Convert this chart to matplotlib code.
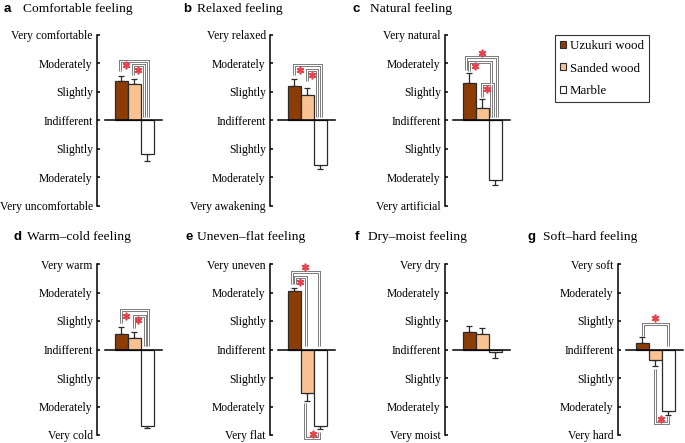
import matplotlib

matplotlib.use("Agg")

import matplotlib.pyplot as plt
from matplotlib.patches import Patch

W, H = 685, 443

SERIES = ["Uzukuri wood", "Sanded wood", "Marble"]
COLORS = ["#8c3d06", "#f9c293", "#ffffff"]

TITLES = [
    "Comfortable feeling",
    "Relaxed feeling",
    "Natural feeling",
    "Warm\u2013cold feeling",
    "Uneven\u2013flat feeling",
    "Dry\u2013moist feeling",
    "Soft\u2013hard feeling",
]
LETTERS = ["a", "b", "c", "d", "e", "f", "g"]

SCALE_ENDS = [
    ("Very comfortable", "Very uncomfortable"),
    ("Very relaxed", "Very awakening"),
    ("Very natural", "Very artificial"),
    ("Very warm", "Very cold"),
    ("Very uneven", "Very flat"),
    ("Very dry", "Very moist"),
    ("Very soft", "Very hard"),
]
SCALE_MIDDLE = ["Moderately", "Slightly", "Indifferent", "Slightly", "Moderately"]

# mean scores (Uzukuri, Sanded, Marble) and standard errors
uzukuri = [1.37, 1.22, 1.31, 0.55, 2.04, 0.63, 0.22]
sanded = [1.28, 0.88, 0.43, 0.40, -1.52, 0.54, -0.38]
marble = [-1.16, -1.56, -2.10, -2.70, -2.70, -0.09, -2.16]
uzukuri_err = [0.19, 0.25, 0.35, 0.24, 0.13, 0.18, 0.23]
sanded_err = [0.19, 0.26, 0.34, 0.22, 0.30, 0.23, 0.19]
marble_err = [0.25, 0.15, 0.16, 0.05, 0.09, 0.21, 0.14]

# significance brackets: (x_left, x_right, y_bar, y_left_end, y_right_end, star_x, star_y)
BRACKETS = [
    [(-0.08, 2.05, 2.10, 1.72, 0.14, 0.36, 1.93), (0.95, 1.77, 1.95, 1.60, 0.14, 1.28, 1.76)],
    [(0.0, 2.05, 1.96, 1.60, 0.14, 0.44, 1.76), (1.03, 1.79, 1.78, 1.37, 0.14, 1.38, 1.58)],
    [
        (-0.23, 2.13, 2.23, 1.78, 0.14, 0.97, 2.37),
        (0.03, 1.70, 2.07, 1.72, 0.14, 0.46, 1.90),
        (1.03, 1.85, 1.29, 0.84, 0.14, 1.36, 1.10),
    ],
    [(0.0, 2.10, 1.38, 0.94, 0.14, 0.38, 1.17), (1.03, 1.85, 1.17, 0.76, 0.14, 1.33, 1.02)],
    [
        (-0.15, 1.95, 2.73, 2.29, 0.12, 0.87, 2.90),
        (0.05, 0.95, 2.56, 2.29, 0.12, 0.49, 2.37),
        (0.87, 1.95, -3.11, -1.88, -2.88, 1.44, -2.95),
    ],
    [],
    [(0.05, 1.97, 0.89, 0.49, 0.14, 1.03, 1.10), (0.97, 1.97, -2.58, -0.68, -2.32, 1.49, -2.44)],
]

# layout in pixels
SPINE_X = [97, 270, 445, 97, 270, 445, 618]
ROW_TOP = [35, 35, 35, 264, 264, 264, 264]
ROW_BOTTOM = [206, 206, 206, 435, 435, 435, 435]
LETTER_X = [4, 183, 353, 13, 185, 355, 528]
TITLE_X = [23, 197, 370, 27, 197, 368, 543]
TITLE_BASE = [11.7, 11.7, 11.7, 240, 240, 240, 240]

UNIT_PX = 13.0
X_SPINE = -1.85
X_RIGHT = 3.4

plt.rcParams.update({"font.family": "Liberation Serif"})

fig = plt.figure(figsize=(W / 100, H / 100), dpi=100)
fig.patch.set_facecolor("white")


def draw_bracket(ax, spec):
    x0, x1, yb, y0, y1, sx, sy = spec
    xs = [x0, x0, x1, x1]
    ys = [y0, yb, yb, y1]
    ax.plot(xs, ys, color="#727272", lw=2.1, solid_joinstyle="miter", solid_capstyle="butt", clip_on=False, zorder=4)
    ax.plot(xs, ys, color="white", lw=0.8, solid_joinstyle="miter", solid_capstyle="butt", clip_on=False, zorder=5)
    ax.plot([sx], [sy], marker=(6, 2, 0), ms=5.5, mew=1.2, color="#e5424c", clip_on=False, zorder=6)


for i in range(7):
    width_px = (X_RIGHT - X_SPINE) * UNIT_PX
    height_px = ROW_BOTTOM[i] - ROW_TOP[i]
    ax = fig.add_axes([SPINE_X[i] / W, 1 - ROW_BOTTOM[i] / H, width_px / W, height_px / H])
    ax.set_xlim(X_SPINE, X_RIGHT)
    ax.set_ylim(-3, 3)
    for side in ("top", "right", "bottom"):
        ax.spines[side].set_visible(False)
    ax.spines["left"].set_linewidth(1.1)
    ax.set_xticks([])
    ax.set_yticks([3, 2, 1, 0, -1, -2, -3])
    ax.set_yticklabels([SCALE_ENDS[i][0]] + SCALE_MIDDLE + [SCALE_ENDS[i][1]], fontsize=8.4)
    ax.tick_params(axis="y", direction="in", length=2.5, width=1.1, pad=3)
    ax.patch.set_alpha(0)

    vals = [uzukuri[i], sanded[i], marble[i]]
    errs = [uzukuri_err[i], sanded_err[i], marble_err[i]]
    for k in range(3):
        v = vals[k]
        yerr = [[0], [errs[k]]] if v >= 0 else [[errs[k]], [0]]
        ax.bar(k, v, width=1.0, color=COLORS[k], edgecolor="#2b2b2b", linewidth=0.9, zorder=2)
        ax.errorbar(k, v, yerr=yerr, fmt="none", ecolor="#2b2b2b", elinewidth=0.9, capsize=2.3, capthick=0.9, zorder=1)

    ax.plot([-1.23, 3.15], [0, 0], color="black", lw=1.1, zorder=3, clip_on=False)

    for spec in BRACKETS[i]:
        draw_bracket(ax, spec)

    fig.text(LETTER_X[i] / W, 1 - TITLE_BASE[i] / H, LETTERS[i], fontsize=9.5, fontweight="bold",
             family="Liberation Sans", va="baseline", ha="left")
    fig.text(TITLE_X[i] / W, 1 - TITLE_BASE[i] / H, TITLES[i], fontsize=9.7, va="baseline", ha="left")

handles = [Patch(facecolor=c, edgecolor="#2b2b2b", linewidth=0.8) for c in COLORS]
leg = fig.legend(handles, SERIES, loc="upper left", bbox_to_anchor=(555 / W, 1 - 35 / H),
                 fontsize=9.3, frameon=True, fancybox=False, edgecolor="black",
                 handlelength=0.45, handleheight=0.45, handletextpad=0.3, labelspacing=0.8,
                 borderpad=0.4, borderaxespad=0)
leg.get_frame().set_linewidth(0.8)

fig.savefig("out.png", dpi=100, facecolor="white")
